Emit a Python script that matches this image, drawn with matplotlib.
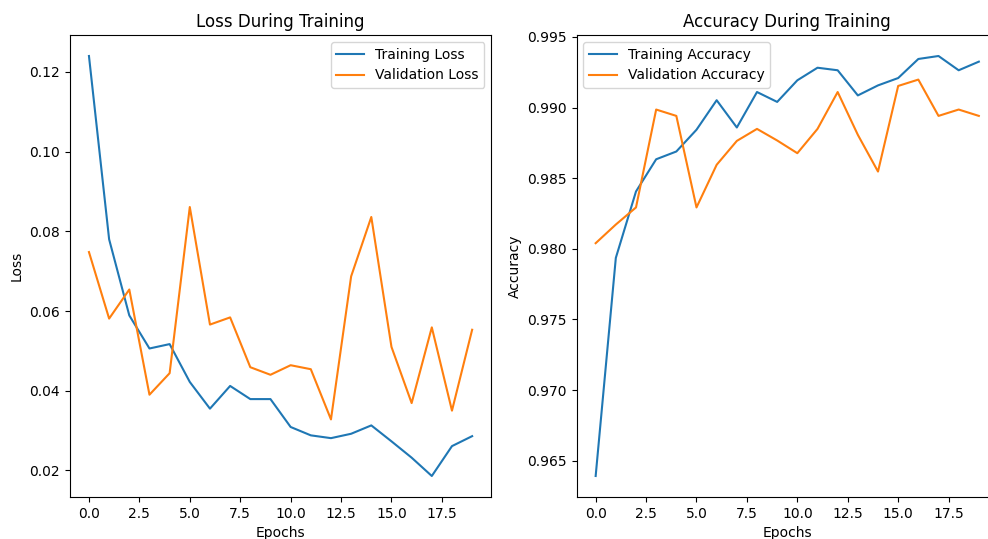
import matplotlib
matplotlib.use("Agg")
import matplotlib.pyplot as plt

epochs = list(range(20))

train_loss = [0.1240, 0.0780, 0.0589, 0.0506, 0.0517, 0.0422, 0.0355, 0.0412, 0.0379, 0.0379,
              0.0309, 0.0288, 0.0281, 0.0292, 0.0313, 0.0273, 0.0232, 0.0186, 0.0261, 0.0286]
val_loss = [0.0748, 0.0581, 0.0654, 0.0390, 0.0444, 0.0861, 0.0566, 0.0584, 0.0459, 0.0440,
            0.0464, 0.0454, 0.0328, 0.0687, 0.0836, 0.0510, 0.0369, 0.0559, 0.0350, 0.0553]

train_acc = [0.96392, 0.97936, 0.98406, 0.98634, 0.98689, 0.98843, 0.99052, 0.98859, 0.99110, 0.99040,
             0.99193, 0.99282, 0.99264, 0.99086, 0.99157, 0.99209, 0.99344, 0.99365, 0.99264, 0.99325]
val_acc = [0.98040, 0.98172, 0.98293, 0.98986, 0.98941, 0.98293, 0.98595, 0.98764, 0.98849, 0.98767,
           0.98677, 0.98849, 0.99110, 0.98807, 0.98547, 0.99153, 0.99198, 0.98941, 0.98986, 0.98941]

W, H = 988, 539
fig = plt.figure(figsize=(W / 100, H / 100), dpi=100)

def px_axes(x0, x1, ytop, ybot):
    return fig.add_axes([x0 / W, (H - ybot) / H, (x1 - x0) / W, (ybot - ytop) / H])

ax1 = px_axes(69.8, 491.3, 35, 497)
ax2 = px_axes(576.5, 998.0, 35, 497)

ax1.plot(epochs, train_loss, label="Training Loss")
ax1.plot(epochs, val_loss, label="Validation Loss")
ax1.set_title("Loss During Training")
ax1.set_xlabel("Epochs")
ax1.set_ylabel("Loss")
ax1.legend(loc="upper right")

ax2.plot(epochs, train_acc, label="Training Accuracy")
ax2.plot(epochs, val_acc, label="Validation Accuracy")
ax2.set_title("Accuracy During Training")
ax2.set_xlabel("Epochs")
ax2.set_ylabel("Accuracy")
ax2.legend(loc="upper left")

fig.savefig("out.png", dpi=100)
